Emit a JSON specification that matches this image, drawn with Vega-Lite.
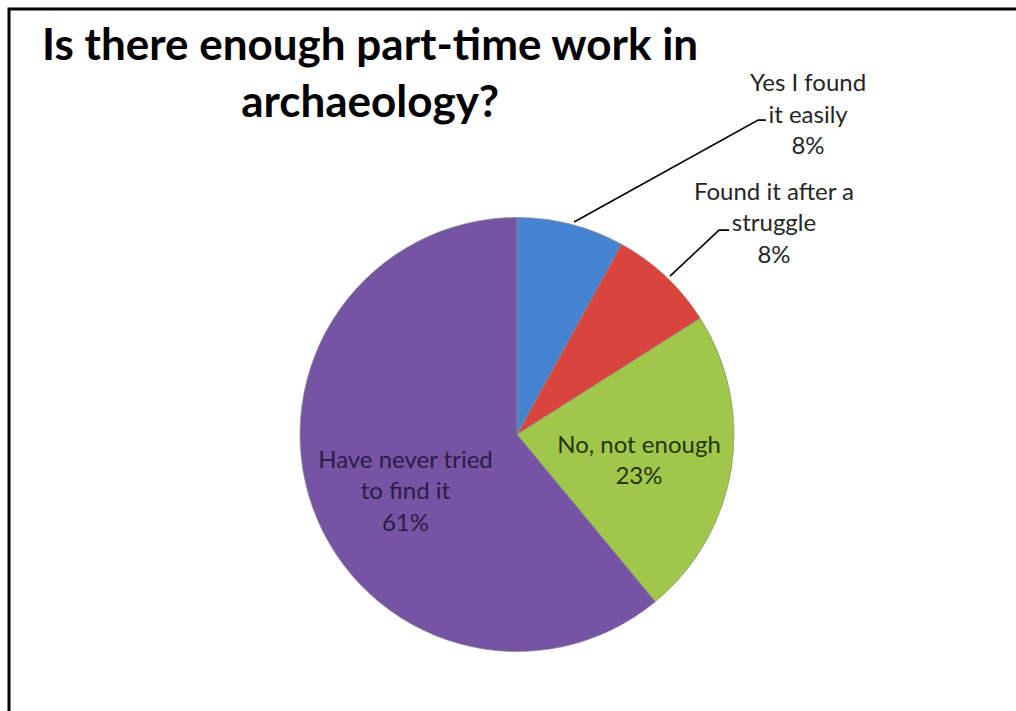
{
  "$schema": "https://vega.github.io/schema/vega-lite/v6.json",
  "width": 1016,
  "height": 711,
  "autosize": {"type": "fit", "contains": "padding"},
  "padding": {"left": 9, "top": 9, "right": -6, "bottom": -6},
  "background": "#ffffff",
  "config": {"view": {"stroke": "#000000", "strokeWidth": 3}, "font": "Lato"},
  "datasets": {
    "answers": [
      {"answer": "Yes I found it easily", "pct": 8, "label": "Yes I found\nit easily\n8%", "lx": 134.1, "ly": 158.3},
      {"answer": "Found it after a struggle", "pct": 8, "label": "Found it after a\nstruggle\n8%", "lx": 118.4, "ly": 108.1},
      {"answer": "No, not enough", "pct": 23, "label": "No, not enough\n23%", "lx": 56.2, "ly": -8.5},
      {"answer": "Have never tried to find it", "pct": 61, "label": "Have never tried\nto find it\n61%", "lx": -51.4, "ly": -15.4}
    ],
    "leaders": [
      {"seg": "a", "x": 26.3, "y": 97.9},
      {"seg": "a", "x": 111.1, "y": 144.9},
      {"seg": "a", "x": 114.7, "y": 144.9},
      {"seg": "b", "x": 70.5, "y": 73.0},
      {"seg": "b", "x": 93.1, "y": 94.2},
      {"seg": "b", "x": 97.7, "y": 94.2}
    ],
    "heading": [
      {"text": "Is there enough part-time work in\narchaeology?", "tx": -67.7, "ty": 172.6}
    ]
  },
  "layer": [
    {
      "data": {"name": "answers"},
      "mark": {"type": "arc", "outerRadius": 217, "stroke": "#8a8a8a", "strokeWidth": 0.7},
      "encoding": {
        "x": {"datum": 0, "type": "quantitative", "scale": {"domain": [-234.1, 232.7], "nice": false, "zero": false}, "axis": null},
        "y": {"datum": 0, "type": "quantitative", "scale": {"domain": [-130.2, 196.1], "nice": false, "zero": false}, "axis": null},
        "theta": {"field": "pct", "type": "quantitative", "stack": true},
        "order": {"field": "pct", "type": "quantitative", "sort": "ascending"},
        "color": {
          "field": "answer",
          "type": "nominal",
          "scale": {
            "domain": ["Yes I found it easily", "Found it after a struggle", "No, not enough", "Have never tried to find it"],
            "range": ["#4683D0", "#D9443C", "#A0C74A", "#7554A3"]
          },
          "legend": null
        }
      }
    },
    {
      "data": {"name": "leaders"},
      "mark": {"type": "line", "color": "#000000", "strokeWidth": 1.6},
      "encoding": {
        "x": {"field": "x", "type": "quantitative"},
        "y": {"field": "y", "type": "quantitative"},
        "detail": {"field": "seg"}
      }
    },
    {
      "data": {"name": "answers"},
      "mark": {"type": "text", "align": "center", "baseline": "alphabetic", "lineBreak": "\n", "fontSize": 24, "lineHeight": 31.5, "font": "Lato"},
      "encoding": {
        "x": {"field": "lx", "type": "quantitative"},
        "y": {"field": "ly", "type": "quantitative"},
        "text": {"field": "label"},
        "color": {
          "field": "answer",
          "type": "nominal",
          "scale": {
            "domain": ["Yes I found it easily", "Found it after a struggle", "No, not enough", "Have never tried to find it"],
            "range": ["#262626", "#262626", "#26340c", "#2b1b48"]
          },
          "legend": null
        }
      }
    },
    {
      "data": {"name": "heading"},
      "mark": {"type": "text", "align": "center", "baseline": "alphabetic", "lineBreak": "\n", "fontSize": 44, "fontWeight": "bold", "lineHeight": 57, "font": "Lato", "color": "#000000"},
      "encoding": {
        "x": {"field": "tx", "type": "quantitative"},
        "y": {"field": "ty", "type": "quantitative"},
        "text": {"field": "text"}
      }
    }
  ],
  "resolve": {"scale": {"color": "independent"}}
}
